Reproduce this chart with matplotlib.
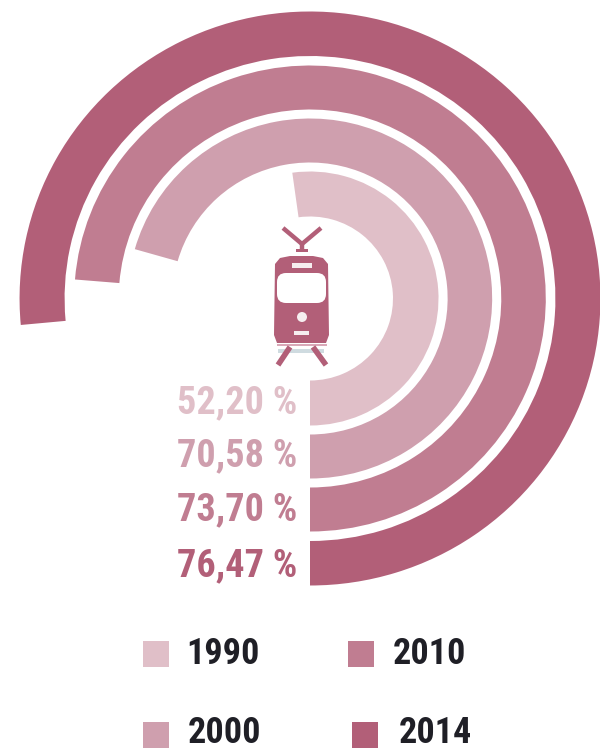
import matplotlib
matplotlib.use("Agg")
import matplotlib.pyplot as plt
from matplotlib.patches import Rectangle, FancyBboxPatch, Circle, Polygon
from matplotlib.transforms import Affine2D

years = ["1990", "2000", "2010", "2014"]
labels = ["52,20 %", "70,58 %", "73,70 %", "76,47 %"]
values = [52.20, 70.58, 73.70, 76.47]
colors = ["#e0bfc8", "#cf9fae", "#c07d91", "#b25f78"]
outer_radius = [127, 180, 233, 287]
ring_width = [45, 44, 44, 44.5]

W, H = 600, 750
cx, cy = 310, 298.5
x_stretch = 1.012  # the reference's circle is very slightly wider than tall
FONT = ["Liberation Sans Narrow", "Roboto Condensed", "Liberation Sans"]
plt.rcParams["font.family"] = FONT

fig = plt.figure(figsize=(6, 7.5), dpi=100, facecolor="white")
ax = fig.add_axes([0, 0, 1, 1])

def Y(py):
    return H - py

for pct, col, r, w in zip(values, colors, outer_radius, ring_width):
    wedges, _ = ax.pie([pct, 100 - pct], colors=[col, "none"], radius=r, center=(cx, Y(cy)),
                       startangle=270, counterclock=True,
                       wedgeprops=dict(width=w, linewidth=0))
    stretch = Affine2D().translate(-cx, 0).scale(x_stretch, 1).translate(cx, 0)
    for wedge in wedges:
        wedge.set_transform(stretch + ax.transData)

ax.set_xlim(0, W)
ax.set_ylim(0, H)
ax.set_aspect("equal")
ax.axis("off")

# value labels
label_y = [403, 456, 510, 566]
for txt, col, py in zip(labels, colors, label_y):
    ax.text(297, Y(py), txt, ha="right", va="center", color=col,
            fontsize=27.5, fontweight="bold")

# legend
leg_sq_x = [143, 143, 348, 352]
leg_sq_y = [641, 722, 641, 722]
leg_txt_y = [654, 733, 654, 733]
leg_txt_x = [186, 188, 393, 399]
for yr, col, sx, sy, tx, ty in zip(years, colors, leg_sq_x, leg_sq_y, leg_txt_x, leg_txt_y):
    ax.add_patch(Rectangle((sx, Y(sy + 26)), 26, 26, facecolor=col, edgecolor="none"))
    ax.text(tx, Y(ty), yr, ha="left", va="center", color="#1f1f26",
            fontsize=26, fontweight="bold")

# tram icon
ic = "#b25f78"
def line(p, q, lw):
    ax.plot([p[0], q[0]], [Y(p[1]), Y(q[1])], color=ic, lw=lw, solid_capstyle="butt")

line((283, 228), (302, 244), 3.2)
line((321, 228), (302, 244), 3.2)
line((302, 243), (302, 250), 3.2)
ax.add_patch(Rectangle((296, Y(252)), 12, 3, facecolor=ic, edgecolor="none"))
ax.add_patch(Polygon([(280, Y(258)), (290, Y(256)), (313, Y(256)), (323, Y(258)),
                      (328, Y(264)), (329, Y(335)), (326, Y(343)), (277, Y(343)),
                      (274, Y(335)), (275, Y(264))],
                     closed=True, facecolor=ic, edgecolor="none"))
ax.add_patch(FancyBboxPatch((282, Y(298)), 39, 20, boxstyle="round,pad=5,rounding_size=9",
                            facecolor="white", edgecolor="none"))
ax.add_patch(Rectangle((292, Y(268)), 20, 5, facecolor="#f6eef0", edgecolor="none"))
ax.add_patch(Circle((302, Y(317)), 5, facecolor="#f6eef0", edgecolor="none"))
ax.add_patch(Rectangle((294, Y(335)), 15, 4.5, facecolor="#f6eef0", edgecolor="none"))
ax.add_patch(Rectangle((277, Y(346)), 50, 2.5, facecolor="#d9a9b8", edgecolor="none"))
ax.add_patch(Rectangle((278, Y(353)), 46, 4, facecolor="#cfdbe0", edgecolor="none"))
line((290, 347), (278, 365), 4)
line((313, 347), (326, 365), 4)

fig.savefig("out.png", dpi=100, facecolor="white")
